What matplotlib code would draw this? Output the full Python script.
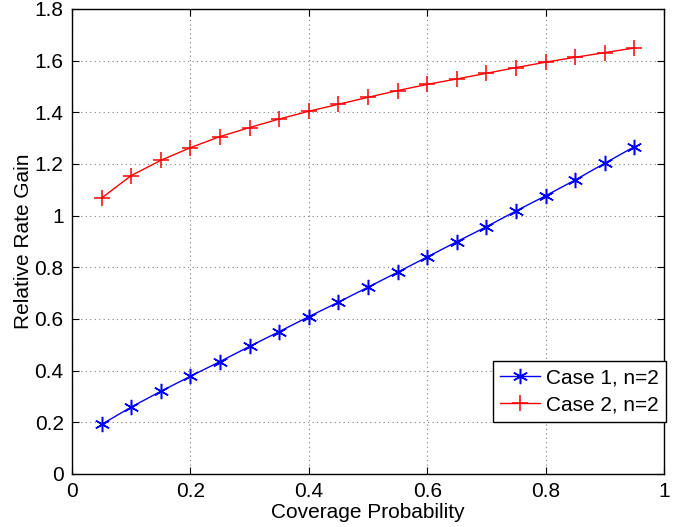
import numpy as np
import matplotlib.pyplot as plt

plt.rcParams['font.family'] = ['Liberation Sans', 'DejaVu Sans']

coverage = [0.05, 0.1, 0.15, 0.2, 0.25, 0.3, 0.35, 0.4, 0.45, 0.5,
            0.55, 0.6, 0.65, 0.7, 0.75, 0.8, 0.85, 0.9, 0.95]
case1 = [0.192, 0.259, 0.320, 0.378, 0.435, 0.494, 0.551, 0.609, 0.665, 0.723,
         0.781, 0.840, 0.899, 0.957, 1.018, 1.077, 1.138, 1.203, 1.267]
case2 = [1.068, 1.155, 1.214, 1.263, 1.306, 1.341, 1.374, 1.404, 1.431, 1.458,
         1.484, 1.508, 1.529, 1.551, 1.573, 1.594, 1.613, 1.631, 1.649]

fig = plt.figure(figsize=(6.94, 5.27), dpi=100)
ax = fig.add_axes([0.1037, 0.1006, 0.8531, 0.8824])

ax.plot(coverage, case1, color='blue', marker=(6, 2, 0), markersize=11, mew=1.1,
        lw=1, label='Case 1, n=2')
ax.plot(coverage, case2, color='red', marker='+', markersize=12, mew=1.1, lw=1,
        label='Case 2, n=2')

ax.set_xlim(0, 1)
ax.set_ylim(0, 1.8)
ax.set_xticks(np.arange(0, 1.01, 0.2))
ax.set_xticklabels(['0', '0.2', '0.4', '0.6', '0.8', '1'])
ax.set_yticks(np.arange(0, 1.81, 0.2))
ax.set_yticklabels(['0', '0.2', '0.4', '0.6', '0.8', '1', '1.2', '1.4', '1.6', '1.8'])
ax.tick_params(direction='in', top=True, right=True, labelsize=15, length=5, pad=6)
ax.grid(True, linestyle=(0, (1, 3)), color='gray', linewidth=0.8)
ax.set_xlabel('Coverage Probability', fontsize=15, labelpad=1)
ax.set_ylabel('Relative Rate Gain', fontsize=15, labelpad=1)
for s in ax.spines.values():
    s.set_linewidth(1)

leg = ax.legend(loc='lower right', bbox_to_anchor=(1.003, 0.112), fontsize=15,
                fancybox=False, framealpha=1, edgecolor='black',
                borderaxespad=0, handlelength=1.9, handletextpad=0.3,
                borderpad=0.35, labelspacing=0.38)
leg.get_frame().set_linewidth(1)

fig.savefig('out.png', dpi=100)
